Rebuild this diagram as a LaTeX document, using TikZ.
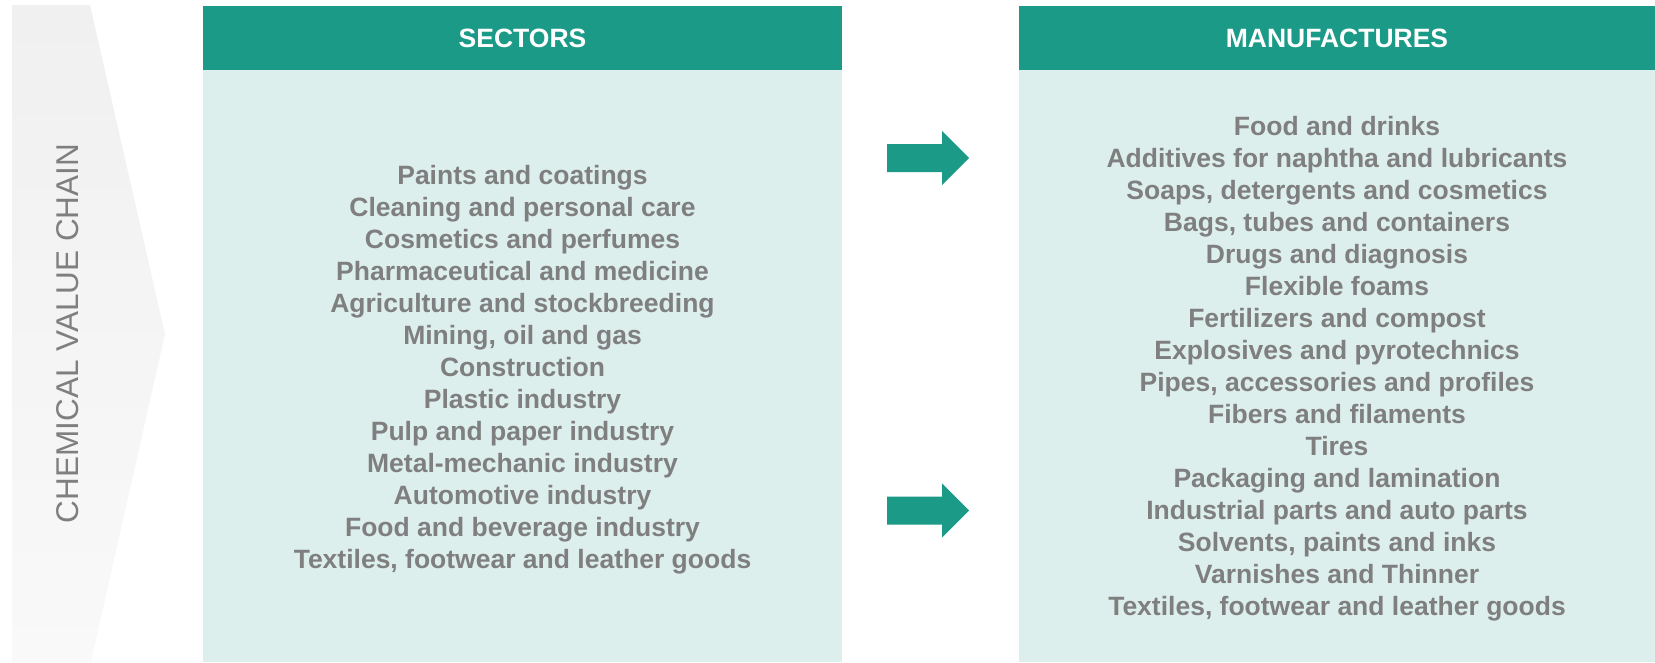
\documentclass[tikz,border=0pt]{standalone}
\usepackage{fontspec}
\setmainfont{Liberation Sans}
\definecolor{tealhd}{HTML}{1A9A87}
\definecolor{palebg}{HTML}{DCEFEC}
\definecolor{txtgray}{HTML}{7F7F7F}
\definecolor{chevgray}{HTML}{F0F0F0}
\begin{document}
\begin{tikzpicture}[x=1pt,y=-1pt,
        hdr/.style={text=white,font=\fontsize{26.5}{32}\selectfont\bfseries,inner sep=0pt},
        itemlist/.style={text=txtgray,font=\fontsize{26.5}{32}\selectfont\bfseries,align=center,inner sep=0pt,anchor=base}]
            \useasboundingbox(0,0)rectangle(1655,662);
            % value chain chevron
            \shade[top color=chevgray,bottom color=chevgray!40!white](12,5)--(90,5)--(165,334)--(91,662)--(12,662)--cycle;
            \node[rotate=90,text=txtgray,font=\fontsize{31.5}{36}\selectfont,inner sep=0pt](chain)at(67.5,333.5){CHEMICAL VALUE CHAIN};
            % columns
            \fill[palebg](203,70)rectangle(842,662);
            \fill[palebg](1019,70)rectangle(1655,662);
            \fill[tealhd](203,6)rectangle(842,70);
            \fill[tealhd](1019,6)rectangle(1655,70);
            \node[hdr](sec)at(522.5,38){SECTORS};
            \node[hdr](man)at(1337,38){MANUFACTURES};
            % arrows
            \foreach \yc in {158,510.5}
                \fill[tealhd](887,\yc-14)--(942,\yc-14)--(942,\yc-27)--(969,\yc)--(942,\yc+27)--(942,\yc+14)--(887,\yc+14)--cycle;
            % lists (base = last line)
            \node[itemlist](seclist)at(522.5,568){Paints and coatings\\Cleaning and personal care\\Cosmetics and perfumes\\Pharmaceutical and medicine\\Agriculture and stockbreeding\\Mining, oil and gas\\Construction\\Plastic industry\\Pulp and paper industry\\Metal-mechanic industry\\Automotive industry\\Food and beverage industry\\Textiles, footwear and leather goods};
            \node[itemlist](manlist)at(1337,615){Food and drinks\\Additives for naphtha and lubricants\\Soaps, detergents and cosmetics\\Bags, tubes and containers\\Drugs and diagnosis\\Flexible foams\\Fertilizers and compost\\Explosives and pyrotechnics\\Pipes, accessories and profiles\\Fibers and filaments\\Tires\\Packaging and lamination\\Industrial parts and auto parts\\Solvents, paints and inks\\Varnishes and Thinner\\Textiles, footwear and leather goods};
        \end{tikzpicture}
\end{document}
